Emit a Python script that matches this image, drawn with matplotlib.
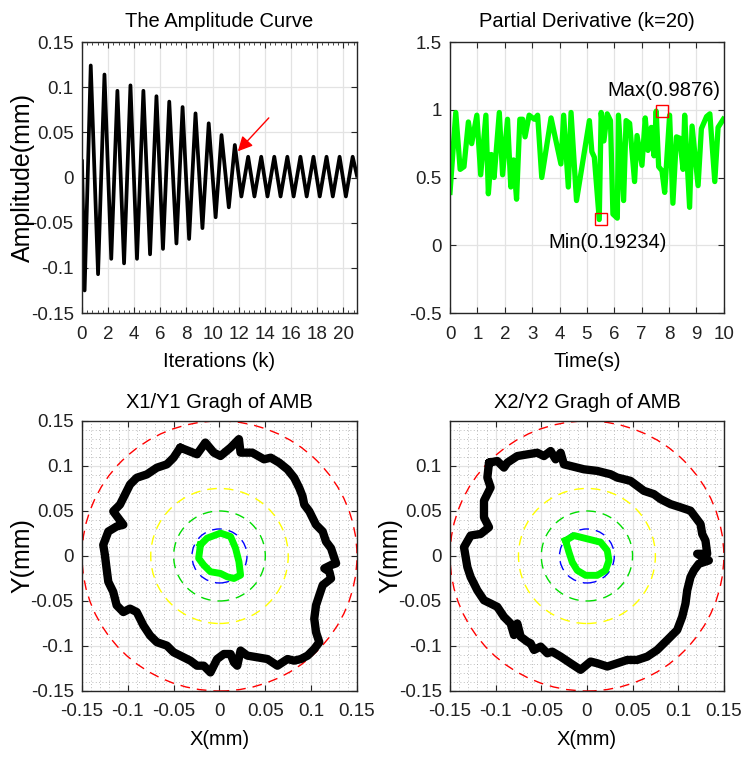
import numpy as np
import matplotlib
matplotlib.use("Agg")
import matplotlib.pyplot as plt
from matplotlib.patches import Circle
from matplotlib.ticker import MultipleLocator

plt.rcParams['font.family'] = ['Liberation Sans', 'DejaVu Sans']
plt.rcParams['axes.unicode_minus'] = False

# --- amplitude curve: extrema (k, amplitude) ---
amp_k = [0.0, 0.20, 0.67, 1.23, 1.72, 2.24, 2.71, 3.22, 3.71, 4.21, 4.70, 5.21, 5.70,
         6.20, 6.68, 7.23, 7.70, 8.20, 8.69, 9.22, 9.70, 10.23, 10.68, 11.24, 11.70,
         12.20, 12.72, 13.20, 13.72, 14.20, 14.72, 15.20, 15.72, 16.20, 16.72,
         17.20, 17.72, 18.20, 18.72, 19.20, 19.72, 20.20, 20.72, 21.05]
amp_val = [0.018, -0.125, 0.124, -0.107, 0.114, -0.090, 0.096, -0.095, 0.102, -0.090,
           0.096, -0.085, 0.090, -0.079, 0.084, -0.073, 0.078, -0.068, 0.071, -0.056,
           0.060, -0.044, 0.047, -0.033, 0.036, -0.021, 0.023, -0.021, 0.023, -0.021,
           0.023, -0.021, 0.023, -0.021, 0.023, -0.021, 0.023, -0.021, 0.023, -0.021,
           0.023, -0.021, 0.023, 0.002]

# --- partial derivative (k=20) ---
pd_t = [0.00, 0.21, 0.37, 0.51, 0.67, 0.79, 0.98, 1.12, 1.31, 1.40, 1.51, 1.61, 1.80,
        1.92, 2.10, 2.22, 2.32, 2.43, 2.55, 2.65, 2.74, 2.89, 3.08, 3.20, 3.35, 3.69,
        4.05, 4.15, 4.32, 4.42, 4.62, 5.09, 5.18, 5.27, 5.45, 5.52, 5.62, 5.74, 5.86,
        5.95, 6.11, 6.15, 6.34, 6.43, 6.56, 6.74, 6.83, 7.01, 7.13, 7.23, 7.35, 7.45,
        7.53, 7.62, 7.74, 7.84, 8.02, 8.14, 8.27, 8.39, 8.51, 8.57, 8.75, 8.84, 9.06,
        9.18, 9.37, 9.49, 9.67, 9.79, 9.98]
pd_val = [0.39, 0.98, 0.56, 0.58, 0.91, 0.75, 0.96, 0.52, 0.96, 0.38, 0.67, 0.50, 0.98,
          0.52, 0.93, 0.43, 0.63, 0.34, 0.93, 0.93, 0.80, 0.96, 0.93, 0.96, 0.50, 0.94,
          0.60, 0.96, 0.43, 0.98, 0.33, 0.92, 0.69, 0.65, 0.19, 0.98, 0.77, 0.97, 0.92,
          0.23, 0.20, 0.96, 0.33, 0.92, 0.90, 0.47, 0.81, 0.59, 0.94, 0.70, 0.87, 0.66,
          0.99, 0.58, 0.55, 0.39, 0.96, 0.31, 0.80, 0.79, 0.56, 0.96, 0.28, 0.88, 0.44,
          0.86, 0.95, 0.97, 0.47, 0.87, 0.93]
max_pt = (7.73, 0.9876)
min_pt = (5.53, 0.19234)

# --- X1/Y1 orbit ---
x1 = [-0.0428, -0.0245, -0.0154, -0.0062, 0.0011, 0.0121, 0.0212, 0.0230, 0.0358, 0.0486,
      0.0559, 0.0651, 0.0742, 0.0815, 0.0870, 0.0906, 0.0925, 0.0980, 0.1053, 0.1126,
      0.1162, 0.1217, 0.1272, 0.1217, 0.1144, 0.1199, 0.1217, 0.1126, 0.1089, 0.1053,
      0.1034, 0.1053, 0.1089, 0.1034, 0.0961, 0.0888, 0.0815, 0.0742, 0.0632, 0.0523,
      0.0413, 0.0303, 0.0230, 0.0194, 0.0157, 0.0121, 0.0048, -0.0026, -0.0099, -0.0172,
      -0.0245, -0.0318, -0.0428, -0.0501, -0.0574, -0.0683, -0.0757, -0.0830, -0.0903,
      -0.0976, -0.1049, -0.1122, -0.1159, -0.1213, -0.1232, -0.1250, -0.1268, -0.1213,
      -0.1122, -0.1049, -0.1104, -0.1159, -0.1086, -0.1031, -0.0976, -0.0903, -0.0793,
      -0.0683, -0.0574, -0.0501]
y1 = [0.1204, 0.1130, 0.1260, 0.1148, 0.1111, 0.1204, 0.1298, 0.1148, 0.1148, 0.1074,
      0.1092, 0.1037, 0.0962, 0.0869, 0.0757, 0.0664, 0.0570, 0.0496, 0.0347, 0.0272,
      0.0160, 0.0086, -0.0082, -0.0101, -0.0138, -0.0175, -0.0250, -0.0324, -0.0436, -0.0548,
      -0.0697, -0.0846, -0.0958, -0.1033, -0.1107, -0.1145, -0.1163, -0.1145, -0.1219, -0.1145,
      -0.1126, -0.1107, -0.1051, -0.1219, -0.1182, -0.1089, -0.1089, -0.1145, -0.1294, -0.1219,
      -0.1219, -0.1163, -0.1107, -0.1070, -0.0996, -0.0958, -0.0884, -0.0772, -0.0623,
      -0.0585, -0.0623, -0.0548, -0.0399, -0.0287, -0.0138, 0.0011, 0.0123, 0.0272,
      0.0328, 0.0347, 0.0421, 0.0496, 0.0570, 0.0682, 0.0794, 0.0869, 0.0906,
      0.0981, 0.1018, 0.1092]
g1x = [-0.0208, -0.0135, 0.0011, 0.0121, 0.0175, 0.0212, 0.0230, 0.0157, 0.0084, 0.0011,
       -0.0099, -0.0172, -0.0227]
g1y = [0.0123, 0.0198, 0.0254, 0.0216, 0.0086, -0.0063, -0.0213, -0.0250, -0.0231, -0.0194,
       -0.0175, -0.0101, -0.0026]

# --- X2/Y2 orbit ---
x2 = [-0.1073, -0.0982, -0.0909, -0.0872, -0.0763, -0.0653, -0.0544, -0.0471, -0.0398,
      -0.0343, -0.0288, -0.0252, -0.0179, -0.0033, 0.0113, 0.0259, 0.0332, 0.0405, 0.0478,
      0.0551, 0.0624, 0.0734, 0.0807, 0.0916, 0.1026, 0.1135, 0.1190, 0.1245, 0.1263,
      0.1299, 0.1318, 0.1208, 0.1299, 0.1336, 0.1226, 0.1172, 0.1135, 0.1099, 0.1080,
      0.1044, 0.0989, 0.0880, 0.0770, 0.0661, 0.0551, 0.0442, 0.0332, 0.0223, 0.0113,
      0.0040, -0.0069, -0.0179, -0.0288, -0.0380, -0.0434, -0.0507, -0.0580, -0.0617,
      -0.0653, -0.0726, -0.0763, -0.0799, -0.0836, -0.0909, -0.0982, -0.1055, -0.1128,
      -0.1201, -0.1274, -0.1310, -0.1347, -0.1274, -0.1164, -0.1073, -0.1128, -0.1128,
      -0.1055, -0.1091]
y2 = [0.1037, 0.1055, 0.0982, 0.1037, 0.1110, 0.1129, 0.1147, 0.1110, 0.1166,
      0.1074, 0.1147, 0.1018, 0.1000, 0.0963, 0.0945, 0.0908, 0.0871, 0.0853, 0.0834,
      0.0779, 0.0724, 0.0687, 0.0632, 0.0576, 0.0540, 0.0503, 0.0429, 0.0355, 0.0245,
      0.0171, 0.0024, 0.0024, -0.0031, -0.0050, -0.0087, -0.0160, -0.0234, -0.0381, -0.0529,
      -0.0676, -0.0823, -0.0934, -0.1044, -0.1118, -0.1155, -0.1155, -0.1192, -0.1228, -0.1192,
      -0.1173, -0.1265, -0.1192, -0.1118, -0.1063, -0.1081, -0.1007, -0.1044, -0.0970,
      -0.0952, -0.0897, -0.0750, -0.0878, -0.0750, -0.0676, -0.0565, -0.0528, -0.0492,
      -0.0381, -0.0234, -0.0123, 0.0098, 0.0227, 0.0245, 0.0319, 0.0429, 0.0613,
      0.0761, 0.0871]
g2x = [-0.0234, -0.0142, 0.0004, 0.0150, 0.0223, 0.0241, 0.0204, 0.0113, -0.0015, -0.0106,
       -0.0161, -0.0197]
g2y = [0.0171, 0.0227, 0.0190, 0.0153, 0.0061, -0.0050, -0.0160, -0.0215, -0.0215, -0.0160,
       -0.0068, 0.0042]

# reference circles: radius, colour
ring_r = [0.15, 0.075, 0.05, 0.03]
ring_c = ['red', 'yellow', '#00dd00', 'blue']

orbit_ticks = [-0.15, -0.1, -0.05, 0, 0.05, 0.1, 0.15]
orbit_labels = ['-0.15', '-0.1', '-0.05', '0', '0.05', '0.1', '0.15']

TICK = 13.5
EDGE = '#262626'


def style(ax):
    for s in ax.spines.values():
        s.set_color(EDGE)
        s.set_linewidth(1.0)
    ax.tick_params(direction='in', top=True, right=True, length=4, width=0.8,
                   colors=EDGE, labelsize=TICK, labelcolor='#222222')
    ax.tick_params(axis='x', pad=9)
    ax.tick_params(axis='y', pad=6)
    ax.tick_params(which='minor', direction='in', top=True, right=True, length=2.5,
                   width=0.6, colors=EDGE)
    ax.grid(True, which='major', color='#e3e3e3', lw=0.9)
    ax.set_axisbelow(True)


fig = plt.figure(figsize=(7.42, 7.57), dpi=100)
ax1 = fig.add_axes([0.1105, 0.5865, 0.3706, 0.358])
ax2 = fig.add_axes([0.6065, 0.5865, 0.369, 0.358])
ax3 = fig.add_axes([0.1105, 0.0872, 0.3706, 0.3567])
ax4 = fig.add_axes([0.6065, 0.0872, 0.369, 0.3567])

# top left
style(ax1)
ax1.plot(amp_k, amp_val, color='black', lw=2.7, solid_joinstyle='round')
ax1.set_xlim(0, 21.05)
ax1.set_ylim(-0.15, 0.15)
ax1.set_xticks(range(0, 21, 2))
ax1.xaxis.set_minor_locator(MultipleLocator(0.4))
ax1.set_yticks(orbit_ticks)
ax1.set_yticklabels(orbit_labels)
ax1.set_title('The Amplitude Curve', fontsize=14.5, pad=11)
ax1.set_xlabel('Iterations (k)', fontsize=14.5, labelpad=7)
ax1.set_ylabel('Amplitude(mm)', fontsize=18, labelpad=-3)
ax1.annotate('', xy=(11.93, 0.029), xytext=(14.3, 0.066),
             arrowprops=dict(arrowstyle='-|>', color='red', lw=1.0, mutation_scale=22,
                             shrinkA=0, shrinkB=0))

# top right
style(ax2)
ax2.plot(pd_t, pd_val, color=(0, 1, 0), lw=3.8, solid_joinstyle='round')
ax2.plot(*max_pt, 's', ms=8, mfc='none', mec='red', mew=1.0)
ax2.plot(*min_pt, 's', ms=8, mfc='none', mec='red', mew=1.0)
ax2.text(5.75, 1.14, 'Max(0.9876)', fontsize=14.5, ha='left', va='center')
ax2.text(3.59, 0.02, 'Min(0.19234)', fontsize=14.5, ha='left', va='center')
ax2.set_xlim(0, 10)
ax2.set_ylim(-0.5, 1.5)
ax2.set_xticks(range(0, 11))
ax2.set_yticks([-0.5, 0, 0.5, 1, 1.5])
ax2.set_yticklabels(['-0.5', '0', '0.5', '1', '1.5'])
ax2.set_title('Partial Derivative (k=20)', fontsize=14.5, pad=11)
ax2.set_xlabel('Time(s)', fontsize=14.5, labelpad=7)

# bottom orbits
for ax, bx, by, gx, gy, ttl, ytk in [
        (ax3, x1, y1, g1x, g1y, 'X1/Y1 Gragh of AMB', orbit_ticks),
        (ax4, x2, y2, g2x, g2y, 'X2/Y2 Gragh of AMB', orbit_ticks[:-1])]:
    style(ax)
    ax.minorticks_on()
    ax.xaxis.set_minor_locator(MultipleLocator(0.01))
    ax.yaxis.set_minor_locator(MultipleLocator(0.01))
    ax.tick_params(which='minor', length=0)
    ax.grid(True, which='minor', color='#a8a8a8', lw=0.6, ls=(0, (1, 3)))
    for r, c in zip(ring_r, ring_c):
        ax.add_patch(Circle((0, 0), r, fill=False, ec=c, lw=1.0, ls=(0, (7, 5)), zorder=2))
    ax.plot(bx + bx[:1], by + by[:1], color='black', lw=6, solid_joinstyle='round',
            solid_capstyle='round', zorder=3)
    ax.plot(gx + gx[:1], gy + gy[:1], color=(0, 1, 0), lw=5, solid_joinstyle='round',
            zorder=4)
    ax.set_xlim(-0.15, 0.15)
    ax.set_ylim(-0.15, 0.15)
    ax.set_xticks(orbit_ticks)
    ax.set_xticklabels(orbit_labels)
    ax.set_yticks(ytk)
    ax.set_yticklabels(orbit_labels[:len(ytk)])
    ax.set_title(ttl, fontsize=14.5, pad=9)
    ax.set_xlabel('X(mm)', fontsize=14.5, labelpad=7)
    ax.set_ylabel('Y(mm)', fontsize=18, labelpad=-3)

fig.savefig('out.png', dpi=100)
